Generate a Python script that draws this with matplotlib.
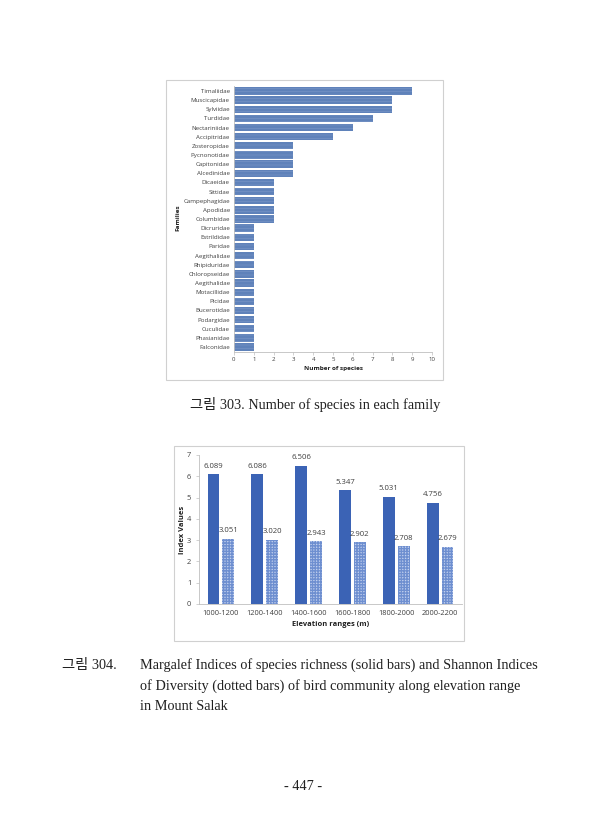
import matplotlib
matplotlib.use("Agg")
import matplotlib.pyplot as plt
from matplotlib.patches import Rectangle

# ---------------- data ----------------
families = ["Timaliidae", "Muscicapidae", "Sylviidae", "Turdidae", "Nectariniidae",
            "Accipitridae", "Zosteropidae", "Pycnonotidae", "Capitonidae", "Alcedinidae",
            "Dicaeidae", "Sittidae", "Campephagidae", "Apodidae", "Columbidae",
            "Dicruridae", "Estrildidae", "Paridae", "Aegithalidae", "Rhipiduridae",
            "Chloropseidae", "Aegithalidae", "Motacillidae", "Picidae", "Bucerotidae",
            "Podargidae", "Cuculidae", "Phasianidae", "Falconidae"]
species_counts = [9, 8, 8, 7, 6, 5, 3, 3, 3, 3, 2, 2, 2, 2, 2,
                  1, 1, 1, 1, 1, 1, 1, 1, 1, 1, 1, 1, 1, 1]
top_xticks = [0, 1, 2, 3, 4, 5, 6, 7, 8, 9, 10]

elevations = ["1000-1200", "1200-1400", "1400-1600", "1600-1800", "1800-2000", "2000-2200"]
margalef = [6.089, 6.086, 6.506, 5.347, 5.031, 4.756]
shannon = [3.051, 3.020, 2.943, 2.902, 2.708, 2.679]
bottom_yticks = [0, 1, 2, 3, 4, 5, 6, 7]

caption1 = "303. Number of species in each family"
caption2_lines = ["Margalef Indices of species richness (solid bars) and Shannon Indices",
                  "of Diversity (dotted bars) of bird community along elevation range",
                  "in Mount Salak"]
page_no = "- 447 -"

# ---------------- figure ----------------
W, H = 606, 840
fig = plt.figure(figsize=(W / 100, H / 100), dpi=100)
fig.patch.set_facecolor("white")

def fr(l, t, r, b):
    return [l / W, 1 - b / H, (r - l) / W, (b - t) / H]

chart_font = ["Open Sans", "DejaVu Sans"]
serif_font = ["Liberation Serif", "Noto Sans CJK KR"]
axis_gray = "#bfbfbf"
text_gray = "#404040"

# chart frames
fig.patches.append(Rectangle((166 / W, 1 - 380 / H), (443 - 166) / W, (380 - 80) / H,
                             transform=fig.transFigure, fill=False,
                             edgecolor="#d0d0d0", linewidth=0.8))
fig.patches.append(Rectangle((174 / W, 1 - 641 / H), (464 - 174) / W, (641 - 446) / H,
                             transform=fig.transFigure, fill=False,
                             edgecolor="#d0d0d0", linewidth=0.8))

# ---------------- top chart ----------------
plt.rcParams["hatch.linewidth"] = 0.4
ax1 = fig.add_axes(fr(234, 86.4, 432, 351.6))
ypos = list(range(len(families)))
ax1.barh(ypos, species_counts, height=0.8, color="#5f82ba",
         edgecolor="#7b97c8", linewidth=0.0, hatch="-----")
ax1.set_ylim(len(families) - 0.5, -0.5)
ax1.set_xlim(0, 10)
ax1.set_yticks(ypos)
ax1.set_yticklabels(families, fontsize=4.4, family=chart_font, color=text_gray)
ax1.set_xticks(top_xticks)
ax1.set_xticklabels([str(t) for t in top_xticks], fontsize=4.4, family=chart_font,
                    color=text_gray)
ax1.tick_params(axis="y", length=0, pad=3)
ax1.tick_params(axis="x", length=2, width=0.5, color=axis_gray, pad=2)
for s in ["top", "right"]:
    ax1.spines[s].set_visible(False)
ax1.spines["bottom"].set_color(axis_gray)
ax1.spines["bottom"].set_linewidth(0.6)
ax1.spines["left"].set_color(axis_gray)
ax1.spines["left"].set_linewidth(0.6)
ax1.set_xlabel("Number of species", fontsize=4.6, fontweight="bold", family=chart_font,
               color="#202020", labelpad=3)
fig.text(178 / W, 1 - 218 / H, "Families", rotation=90, fontsize=4.6, fontweight="bold",
         family=chart_font, color="#202020", ha="center", va="center")

# ---------------- bottom chart ----------------
plt.rcParams["hatch.linewidth"] = 1.0
ax2 = fig.add_axes(fr(199, 455, 462, 604))
x = list(range(len(elevations)))
w = 0.27
off = 0.17
ax2.bar([i - off for i in x], margalef, width=w, color="#3b63b5", linewidth=0)
ax2.bar([i + off for i in x], shannon, width=w, color="#c2d0ee",
        edgecolor="#6e8fd0", linewidth=0, hatch="++++++")
for i, v in enumerate(margalef):
    ax2.text(i - off, v + 0.22, f"{v:.3f}", ha="center", va="bottom", fontsize=5.6,
             family=chart_font, color=text_gray)
for i, v in enumerate(shannon):
    ax2.text(i + off, v + 0.22, f"{v:.3f}", ha="center", va="bottom", fontsize=5.6,
             family=chart_font, color=text_gray)
ax2.set_xlim(-0.5, len(elevations) - 0.5)
ax2.set_ylim(0, 7)
ax2.set_yticks(bottom_yticks)
ax2.set_yticklabels([str(t) for t in bottom_yticks], fontsize=5.4, family=chart_font,
                    color=text_gray)
ax2.set_xticks(x)
ax2.set_xticklabels(elevations, fontsize=5.4, family=chart_font, color=text_gray)
ax2.tick_params(axis="x", length=0, pad=4)
ax2.tick_params(axis="y", length=2.5, width=0.5, color=axis_gray, pad=3)
for s in ["top", "right"]:
    ax2.spines[s].set_visible(False)
for s in ["bottom", "left"]:
    ax2.spines[s].set_color(axis_gray)
    ax2.spines[s].set_linewidth(0.6)
ax2.set_xlabel("Elevation ranges (m)", fontsize=5.4, fontweight="bold", family=chart_font,
               color="#202020", labelpad=3)
fig.text(182 / W, 1 - 530 / H, "Index Values", rotation=90, fontsize=5.4, fontweight="bold",
         family=chart_font, color="#202020", ha="center", va="center")

# ---------------- captions ----------------
cap_fs = 10.3
fig.text(190 / W, 1 - 404 / H, "그림 " + caption1, fontsize=cap_fs, family=serif_font,
         ha="left", va="center", color="#202020")
fig.text(62 / W, 1 - 665 / H, "그림 304.", fontsize=cap_fs, family=serif_font,
         ha="left", va="center", color="#202020")
for k, line in enumerate(caption2_lines):
    fig.text(140 / W, 1 - (665 + 21 * k) / H, line, fontsize=cap_fs, family=serif_font,
             ha="left", va="center", color="#202020")
fig.text(303 / W, 1 - 786 / H, page_no, fontsize=cap_fs, family=serif_font,
         ha="center", va="center", color="#202020")

fig.savefig("out.png", dpi=100, facecolor="white")
